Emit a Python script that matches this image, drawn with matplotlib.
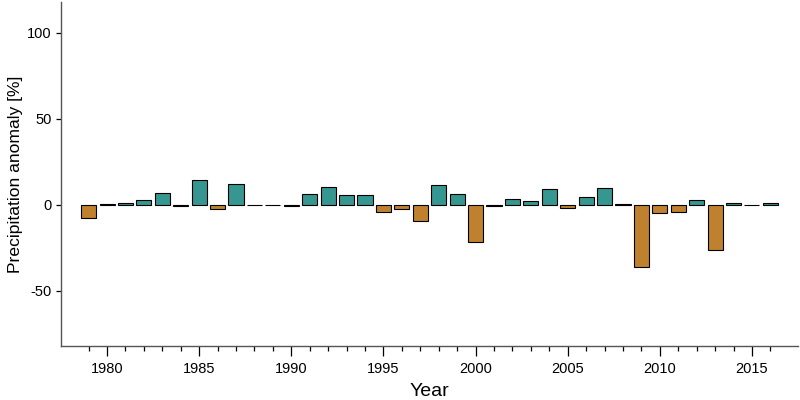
import numpy as np
import matplotlib
matplotlib.use("Agg")
import matplotlib.pyplot as plt
from matplotlib.ticker import MultipleLocator, FixedLocator

plt.rcParams["font.family"] = ["Liberation Sans", "DejaVu Sans"]
plt.rcParams["axes.unicode_minus"] = False

years = list(range(1979, 2017))
anomaly = [-7.5, 0.5, 1.0, 3.1, 7.0, -0.4, 14.6, -2.3, 12.2, 0.2,
           -0.3, -0.6, 6.6, 10.3, 5.8, 5.6, -4.3, -2.5, -9.1, 11.7,
           6.4, -21.8, -0.6, 3.7, 2.5, 9.3, -1.7, 4.9, 10.1, 0.4,
           -36.3, -4.9, -4.1, 2.9, -26.2, 1.2, -0.3, 1.2]

wet_color = "#35978f"
dry_color = "#bf812d"
colors = [wet_color if v >= 0 else dry_color for v in anomaly]

fig = plt.figure(figsize=(8, 4), dpi=100)
ax = fig.add_axes([61 / 800, 1 - 346 / 400, 737 / 800, 344 / 400])

ax.bar(years, anomaly, width=0.82, color=colors, edgecolor="black", linewidth=0.8)

ax.set_xlim(1977.5, 2017.5)
ax.set_ylim(-82, 118)
ax.xaxis.set_major_locator(MultipleLocator(5))
ax.xaxis.set_minor_locator(FixedLocator(years))
ax.yaxis.set_major_locator(MultipleLocator(50))

for s in ["top", "right"]:
    ax.spines[s].set_visible(False)
for s in ["left", "bottom"]:
    ax.spines[s].set_color("#555555")
    ax.spines[s].set_linewidth(1.0)

ax.tick_params(axis="x", which="major", length=7.5, width=0.9, color="black", labelsize=10.5, pad=4)
ax.tick_params(axis="x", which="minor", length=3.8, width=0.9, color="black")
ax.tick_params(axis="y", which="major", length=3.5, width=0.9, color="black", labelsize=10.5, pad=3)

ax.set_xlabel("Year", fontsize=14, labelpad=5)
ax.set_ylabel("Precipitation anomaly [%]", fontsize=12.6, labelpad=3)

fig.savefig("out.png", dpi=100)
